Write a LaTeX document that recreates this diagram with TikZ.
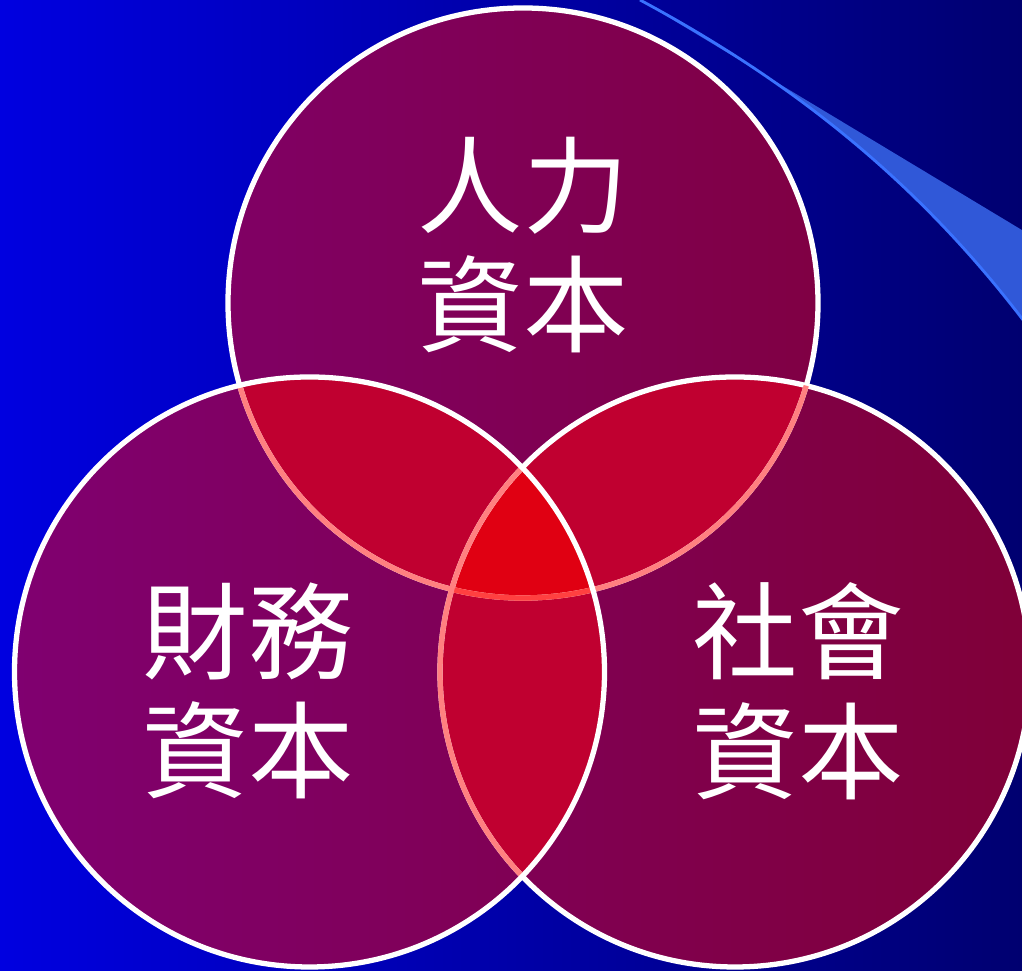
\documentclass[tikz,border=0pt]{standalone}
\usepackage{fontspec}
\newfontfamily\cjk{Noto Sans CJK TC}
\usepackage{tikz}
\usetikzlibrary{calc,positioning}
\definecolor{bgleft}{HTML}{0000E0}
\definecolor{bgright}{HTML}{000070}
\definecolor{ringleft}{HTML}{800070}
\definecolor{ringright}{HTML}{800038}
\definecolor{pairred}{HTML}{C00030}
\definecolor{triplered}{HTML}{E00012}
\definecolor{pinkline}{HTML}{FF8080}
\definecolor{redline}{HTML}{FF4040}
\definecolor{swooshblue}{HTML}{3058D8}
\definecolor{swooshedge}{HTML}{3A72FF}
\tikzset{
  ring/.style={draw=white,line width=1.5pt},
  inner ring/.style={draw=pinkline,line width=1.5pt},
  caption/.style={text=white,align=center,font=\cjk\fontsize{30pt}{34pt}\selectfont}
}
\newcommand\ringr{2.95}

\begin{document}
\begin{tikzpicture}
  \useasboundingbox (0,0) rectangle (10.22,9.71);
  \clip (0,0) rectangle (10.22,9.71);
  % background
  \shade[left color=bgleft,right color=bgright] (0,0) rectangle (10.22,9.71);
  % swoosh at top right
  \fill[swooshblue] (6.40,9.71) -- (10.6,7.18) -- (10.6,6.0)
    .. controls (9.4,7.75) and (8.0,8.85) .. (6.40,9.71) -- cycle;
  \draw[swooshedge,line width=0.8pt] (10.6,6.0)
    .. controls (9.4,7.75) and (8.0,8.85) .. (6.40,9.71);
  % circle centres
  \coordinate (human) at (5.23,6.68);
  \coordinate (finance) at (3.095,2.99);
  \coordinate (social) at (7.35,2.99);
  % circles
  \shade[left color=ringleft,right color=ringright]
    (human) circle (\ringr) (finance) circle (\ringr) (social) circle (\ringr);
  % pairwise overlaps
  \begin{scope}
    \clip (human) circle (\ringr);
    \fill[pairred] (finance) circle (\ringr) (social) circle (\ringr);
  \end{scope}
  \begin{scope}
    \clip (finance) circle (\ringr);
    \fill[pairred] (social) circle (\ringr);
  \end{scope}
  % triple overlap
  \begin{scope}
    \clip (human) circle (\ringr);
    \clip (finance) circle (\ringr);
    \fill[triplered] (social) circle (\ringr);
  \end{scope}
  % outlines
  \draw[ring] (human) circle (\ringr);
  \draw[ring] (social) circle (\ringr);
  \begin{scope}
    \clip (finance) circle (\ringr) (social) circle (\ringr);
    \draw[inner ring] (human) circle (\ringr);
  \end{scope}
  \begin{scope}
    \clip (finance) circle (\ringr);
    \clip (social) circle (\ringr);
    \draw[inner ring,draw=redline] (human) circle (\ringr);
  \end{scope}
  \begin{scope}
    \clip (finance) circle (\ringr);
    \draw[inner ring] (social) circle (\ringr);
  \end{scope}
  \draw[ring] (finance) circle (\ringr);
  % labels
  \node[caption] (humanlabel) at (5.23,7.26) {人力\\資本};
  \node[caption] (financelabel) at (2.48,2.80) {財務\\資本};
  \node[caption] (sociallabel) at (7.98,2.80) {社會\\資本};
\end{tikzpicture}
\end{document}
